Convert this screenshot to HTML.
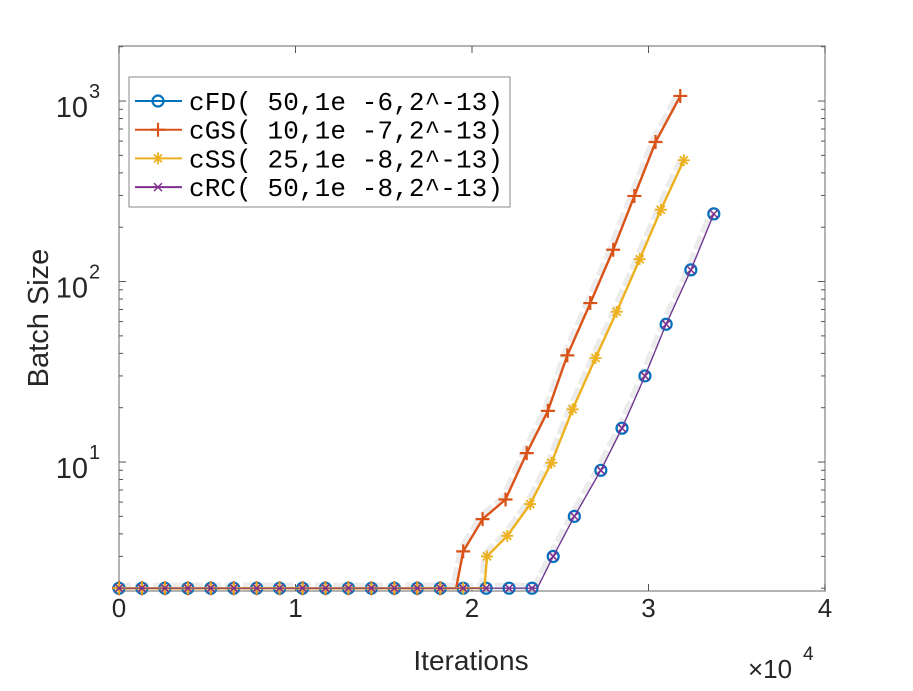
<!DOCTYPE html>
<html><head><meta charset="utf-8"><style>
html,body{margin:0;padding:0;background:#fff;}
svg text{font-family:"Liberation Sans",Helvetica,sans-serif;fill:#262626;}
</style></head><body>
<svg id="chart" width="913" height="686" viewBox="0 0 913 686" xmlns="http://www.w3.org/2000/svg">
<g id="plot"></g>
</svg>
<script>
// iteration values are in units of 1e4
const xTicks = [0,1,2,3,4];
const xTickLabels = ["0","1","2","3","4"];
const yDecades = [1,2,3];
const seriesNames = ["cFD( 50,1e -6,2^-13)","cGS( 10,1e -7,2^-13)","cSS( 25,1e -8,2^-13)","cRC( 50,1e -8,2^-13)"];
const flatX = [0,0.13,0.26,0.39,0.52,0.65,0.78,0.91,1.04,1.17,1.30,1.43,1.56,1.69,1.82,1.95,2.08,2.21,2.34];
const fdX = [2.46,2.58,2.73,2.85,2.98,3.10,3.24,3.37];
const fdY = [3,5,9,15.4,30,58,116,237];
const gsX = [1.95,2.06,2.19,2.31,2.43,2.54,2.67,2.80,2.92,3.04,3.18];
const gsY = [3.2,4.83,6.2,11.2,19.2,39,76,150,298,593,1067];
const ssX = [2.085,2.20,2.33,2.45,2.57,2.70,2.82,2.95,3.07,3.20];
const ssY = [3,3.9,5.85,9.9,19.6,37.7,68,133,250,470];
const gsStart = 1.91, ssStart = 2.07, fdStart = 2.37;

const L=119,R=825,T=46,B=591;
const xs = v => L + (R-L)*v/4;
const ymin=Math.log10(1.93), ymax=Math.log10(2018);
const ys = v => B - (B-T)*(Math.log10(v)-ymin)/(ymax-ymin);
const NS="http://www.w3.org/2000/svg";
const g=document.getElementById('plot');
function mk(tag,attrs,parent){const e=document.createElementNS(NS,tag);for(const k in attrs)e.setAttribute(k,attrs[k]);(parent||g).appendChild(e);return e;}

const box=mk('rect',{x:L,y:T,width:R-L,height:B-T,fill:'none',stroke:'#8a8a8a','stroke-width':1.3});


xTicks.forEach((t,i)=>{
  const x=xs(t);
  mk('line',{x1:x,y1:B,x2:x,y2:B-7,stroke:'#555'});
  mk('line',{x1:x,y1:T,x2:x,y2:T+7,stroke:'#555'});
  const tx=mk('text',{x:x,y:617,'font-size':26,'text-anchor':'middle'});
  tx.textContent=xTickLabels[i];
  
  
});
for(let d=0;d<=3;d++){
  for(let m=1;m<10;m++){
    const v=m*Math.pow(10,d);
    if(v<1.93||v>2018)continue;
    const y=ys(v), len=m===1?7:4;
    mk('line',{x1:L,y1:y,x2:L+len,y2:y,stroke:'#555'});
    mk('line',{x1:R,y1:y,x2:R-len,y2:y,stroke:'#555'});
  }
}
yDecades.forEach(d=>{
  const y=ys(Math.pow(10,d));
  const t=mk('text',{x:88,y:y+16,'font-size':29,'text-anchor':'end'});
  t.textContent='10';
  
  
  const s=mk('text',{x:89,y:y-3,'font-size':20});
  s.textContent=String(d);
});
const xt=mk('text',{x:471,y:670,'font-size':28,'text-anchor':'middle'});xt.textContent='Iterations';


const xm=mk('text',{x:748,y:678,'font-size':26});xm.textContent='×10';


const xm2=mk('text',{x:803,y:660,'font-size':19});xm2.textContent='4';
const yt=mk('text',{x:0,y:0,'font-size':29,'text-anchor':'middle',transform:'translate(48,318) rotate(-90)'});yt.textContent='Batch Size';



function linePath(start,X,Y){
  let p=[[xs(0),ys(2)],[xs(start),ys(2)]];
  X.forEach((x,i)=>{p.push([xs(x),ys(Y[i])]);});
  return p.map(q=>q[0].toFixed(1)+','+q[1].toFixed(1)).join(' ');
}
function marker(type,x,y,c,parent){
  if(type==='o') return mk('circle',{cx:x,cy:y,r:5.5,fill:'none',stroke:c,'stroke-width':2.2},parent);
  if(type==='+') return mk('path',{d:`M${x-7},${y}H${x+7}M${x},${y-7}V${y+7}`,stroke:c,'stroke-width':2.2},parent);
  if(type==='x') return mk('path',{d:`M${x-4},${y-4}L${x+4},${y+4}M${x-4},${y+4}L${x+4},${y-4}`,stroke:c,'stroke-width':1.5},parent);
  return mk('path',{d:`M${x-6},${y}H${x+6}M${x},${y-6}V${y+6}M${x-4},${y-4}L${x+4},${y+4}M${x-4},${y+4}L${x+4},${y-4}`,stroke:c,'stroke-width':1.8},parent);
}
const cols=['#0072BD','#D95319','#EDB120','#7E2F8E'];
const defs=[[fdStart,fdX,fdY,'o',0],[gsStart,gsX,gsY,'+',1],[ssStart,ssX,ssY,'*',2],[fdStart,fdX,fdY,'x',3]];
defs.forEach(d=>{mk('polyline',{points:linePath(d[0],d[1],d[2]),fill:'none',stroke:'#ececec','stroke-width':7,'stroke-dasharray':'14 4',transform:'translate(-2,-2)'});});
defs.forEach(d=>{
  const sg=mk('g',{});
  
  
  mk('polyline',{points:linePath(d[0],d[1],d[2]),fill:'none',stroke:cols[d[4]],'stroke-width':d[4]===0||d[4]===3?1.2:2.4},sg);
  flatX.filter(x=>x<=d[0]+0.01).forEach(x=>{const m=marker(d[3],xs(x),ys(2),cols[d[4]],sg);});
  d[1].forEach((x,i)=>{const m=marker(d[3],xs(x),ys(d[2][i]),cols[d[4]],sg);});
});
const lg=mk('g',{});


mk('rect',{x:129,y:77,width:381,height:130,fill:'#fff',stroke:'#8a8a8a'},lg);
seriesNames.forEach((n,i)=>{
  const y=101+i*28.7;
  const e=mk('g',{},lg);
  
  
  mk('line',{x1:135,y1:y,x2:182,y2:y,stroke:cols[i],'stroke-width':2},e);
  marker(['o','+','*','x'][i],158,y,cols[i],e);
  const t=mk('text',{x:189,y:y+9,'font-size':26},e);
  t.textContent=n;
  t.setAttribute('style','font-family:"Liberation Mono",monospace;fill:#000');
  t.setAttribute('textLength','314');
});
</script>
</body></html>
